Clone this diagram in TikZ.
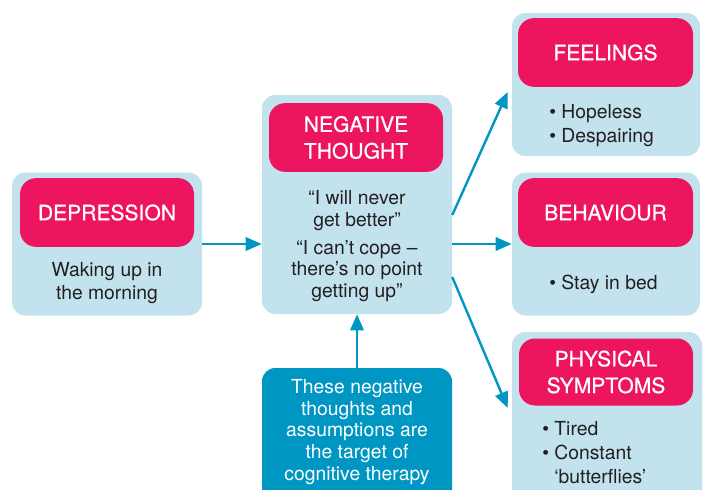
\documentclass[tikz,border=0pt]{standalone}
\usepackage{fontspec}
\setmainfont{TeX Gyre Heros}
\newfontfamily\headfamily{TeX Gyre Heros}[FakeBold=0.7]
\usepackage{xcolor}
\usepackage{tikz}
\usetikzlibrary{arrows.meta}

\definecolor{boxblue}{RGB}{194,226,238}
\definecolor{headpink}{RGB}{237,20,96}
\definecolor{linkblue}{RGB}{0,150,196}
\definecolor{txtgray}{RGB}{35,31,32}

\newcommand{\headfont}{\headfamily\fontsize{15.8}{20}\selectfont}
\newcommand{\bodyfont}{\fontsize{14.5}{17.25}\selectfont}

\tikzset{
  box/.style={fill=boxblue, rounded corners=10pt, inner sep=0pt, minimum width=142.5pt},
  head/.style={fill=headpink, text=white, rounded corners=12pt, inner sep=0pt,
    minimum width=130.5pt, minimum height=51.5pt, align=center, font=\headfont},
  body/.style={text=txtgray, align=center, inner sep=0pt, font=\bodyfont},
  list/.style={text=txtgray, align=left, inner sep=0pt, anchor=west, font=\bodyfont},
  link/.style={draw=linkblue, line width=1.8pt, -{Triangle[length=12pt,width=10pt]}}
}

\begin{document}
\begin{tikzpicture}[x=0.75pt,y=0.75pt,yscale=-1,xscale=1]
\useasboundingbox (0,0) rectangle (703,489);
\clip (0,0) rectangle (703,489);

%Shape: Rounded Rect [id:dep] 
\node [box, minimum height=107.25pt] (dep) at (107,244) {};
%Shape: Rounded Rect [id:neg] 
\node [box, minimum height=164.25pt] (neg) at (357,204.5) {};
%Shape: Rounded Rect [id:feel] 
\node [box, minimum width=141pt, minimum height=107.25pt] (feel) at (606,84.5) {};
%Shape: Rounded Rect [id:beh] 
\node [box, minimum width=141pt, minimum height=107.25pt] (beh) at (606,244) {};
%Shape: Rounded Rect [id:phys] 
\node [box, minimum height=132pt] (phys) at (607,420) {};
%Shape: Rounded Rect [id:cbt] 
\node [box, fill=linkblue, minimum height=105pt] (cbt) at (357,438) {};

% Text Node
\node [head] (dephead) at (107,212.5) {DEPRESSION};
% Text Node
\node [head] (neghead) at (356,137.5) {NEGATIVE\\THOUGHT};
% Text Node
\node [head, minimum width=131.25pt] (feelhead) at (605.5,52.5) {FEELINGS};
% Text Node
\node [head, minimum width=131.25pt] (behhead) at (605.5,212.5) {BEHAVIOUR};
% Text Node
\node [head, minimum height=50.25pt] (physhead) at (606,372) {PHYSICAL\\SYMPTOMS};

% Text Node
\node [body] (deptext) at (107,283) {Waking up in\\the morning};
% Text Node
\node [body, font=\fontsize{14.5}{16}\selectfont] (negtexta) at (357,210.5) {“I will never\\ get better”};
% Text Node
\node [body, font=\fontsize{14.5}{16}\selectfont] (negtextb) at (357,271) {“I can’t cope –\\there’s no point\\getting up”};
% Text Node
\node [list, font=\fontsize{14.5}{17.5}\selectfont] (feeltext) at (549,125.5) {\textbullet\ Hopeless\\\textbullet\ Despairing};
% Text Node
\node [list] (behtext) at (549,284) {\textbullet\ Stay in bed};
% Text Node
\node [list, font=\fontsize{14.5}{18.2}\selectfont] (phystext) at (542,452.5) {\textbullet\ Tired\\\textbullet\ Constant\\\hphantom{\textbullet\ }‘butterflies’};
% Text Node
\node [body, text=white, font=\fontsize{14.5}{16.2}\selectfont] (cbttext) at (357,432) {These negative\\thoughts and\\assumptions are\\the target of\\cognitive therapy};

%Straight Lines [id:dep-neg] 
\draw [link] (dep.east) -- (dep.east -| neg.west);
%Straight Lines [id:neg-feel] 
\draw [link] ([yshift=7.9pt]neg.east) -- ([xshift=-3pt,yshift=5.6pt]feel.west);
%Straight Lines [id:neg-beh] 
\draw [link] (neg.east |- beh.west) -- (beh.west);
%Straight Lines [id:neg-phys] 
\draw [link] ([yshift=54.4pt]neg.east) -- ([xshift=-3pt,yshift=-9pt]phys.west);
%Straight Lines [id:cbt-neg] 
\draw [link] (cbt.north) -- (neg.south);

\end{tikzpicture}
\end{document}
